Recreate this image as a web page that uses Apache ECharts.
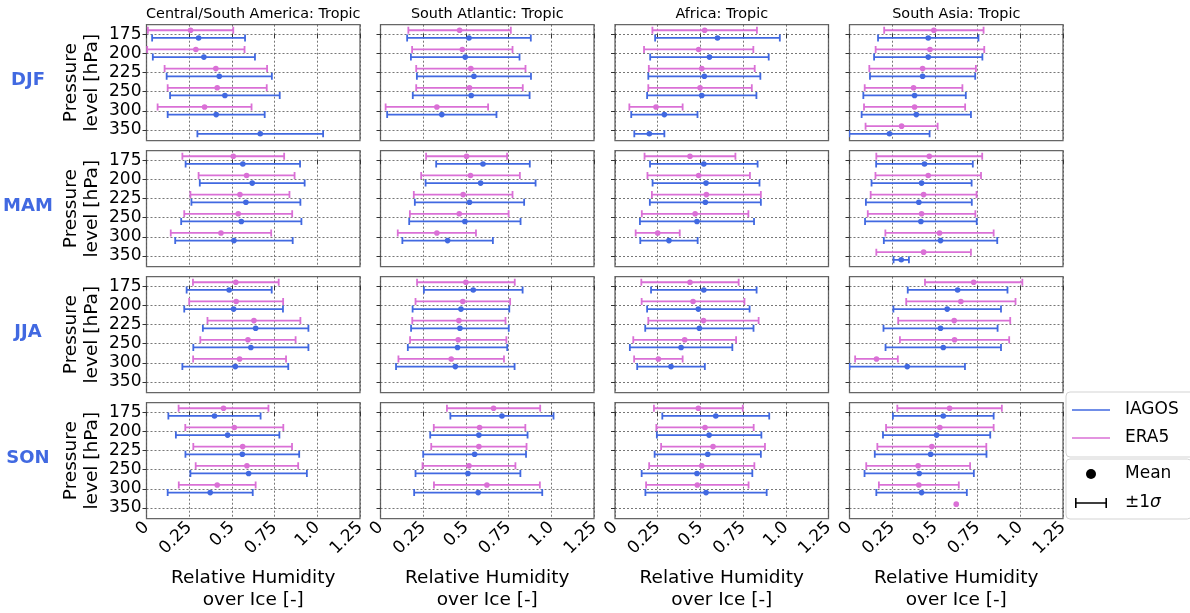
<!DOCTYPE html>
<html>
<head>
<meta charset="utf-8">
<script src="https://cdn.jsdelivr.net/npm/echarts@6/dist/echarts.min.js"></script>
<style>
  html, body { margin: 0; padding: 0; background: #fff; }
  #chart { width: 1190px; height: 613px; }
</style>
</head>
<body>
<div id="chart"></div>
<script>
// Panel headings, row headings and axis ticks
const regions = ['Central/South America: Tropic', 'South Atlantic: Tropic', 'Africa: Tropic', 'South Asia: Tropic'];
const seasons = ['DJF', 'MAM', 'JJA', 'SON'];
const levels = ['175', '200', '225', '250', '300', '350'];
const xTickLabels = ['0', '0.25', '0.5', '0.75', '1.0', '1.25'];

// Mean and standard deviation of RHi, one row per region, one column per pressure level
const djfIagosMean = [
  [0.305, 0.336, 0.426, 0.459, 0.408, 0.666],
  [0.518, 0.496, 0.547, 0.531, 0.359, null],
  [0.600, 0.553, 0.523, 0.508, 0.289, 0.201],
  [0.461, 0.461, 0.428, 0.381, 0.391, 0.234]];
const djfIagosSd = [
  [0.272, 0.299, 0.308, 0.321, 0.284, 0.368],
  [0.362, 0.318, 0.334, 0.342, 0.320, null],
  [0.365, 0.347, 0.328, 0.320, 0.194, 0.088],
  [0.294, 0.317, 0.308, 0.300, 0.320, 0.235]];
const djfEra5Mean = [
  [0.258, 0.289, 0.406, 0.414, 0.340, null],
  [0.463, 0.479, 0.529, 0.521, 0.330, null],
  [0.525, 0.490, 0.508, 0.498, 0.240, null],
  [0.494, 0.471, 0.428, 0.375, 0.381, 0.305]];
const djfEra5Sd = [
  [0.250, 0.285, 0.300, 0.290, 0.275, null],
  [0.300, 0.294, 0.320, 0.312, 0.300, null],
  [0.306, 0.320, 0.310, 0.303, 0.156, null],
  [0.291, 0.318, 0.312, 0.286, 0.296, 0.211]];

const mamIagosMean = [
  [0.564, 0.619, 0.582, 0.555, 0.512, null],
  [0.600, 0.586, 0.521, 0.494, 0.393, null],
  [0.520, 0.533, 0.529, 0.480, 0.316, null],
  [0.439, 0.422, 0.406, 0.418, 0.533, 0.303]];
const mamIagosSd = [
  [0.335, 0.307, 0.319, 0.352, 0.344, null],
  [0.274, 0.322, 0.320, 0.326, 0.265, null],
  [0.315, 0.313, 0.325, 0.334, 0.168, null],
  [0.283, 0.293, 0.310, 0.327, 0.332, 0.045]];
const mamEra5Mean = [
  [0.508, 0.586, 0.547, 0.537, 0.436, null],
  [0.504, 0.527, 0.484, 0.461, 0.330, null],
  [0.439, 0.490, 0.535, 0.469, 0.250, null],
  [0.467, 0.461, 0.434, 0.422, 0.527, 0.434]];
const mamEra5Sd = [
  [0.298, 0.281, 0.290, 0.316, 0.294, null],
  [0.237, 0.289, 0.289, 0.289, 0.229, null],
  [0.266, 0.300, 0.319, 0.312, 0.129, null],
  [0.310, 0.309, 0.310, 0.315, 0.317, 0.277]];

const jjaIagosMean = [
  [0.484, 0.510, 0.639, 0.611, 0.520, null],
  [0.543, 0.471, 0.465, 0.451, 0.438, null],
  [0.520, 0.488, 0.494, 0.387, 0.328, null],
  [0.633, 0.572, 0.533, 0.549, 0.338, null]];
const jjaIagosSd = [
  [0.249, 0.289, 0.309, 0.337, 0.310, null],
  [0.289, 0.283, 0.286, 0.291, 0.347, null],
  [0.309, 0.300, 0.317, 0.300, 0.198, null],
  [0.292, 0.315, 0.334, 0.338, 0.338, null]];
const jjaEra5Mean = [
  [0.523, 0.525, 0.629, 0.594, 0.545, null],
  [0.500, 0.482, 0.459, 0.455, 0.414, null],
  [0.439, 0.457, 0.518, 0.408, 0.254, null],
  [0.727, 0.652, 0.613, 0.615, 0.158, null]];
const jjaEra5Sd = [
  [0.251, 0.275, 0.272, 0.279, 0.272, null],
  [0.286, 0.277, 0.273, 0.282, 0.309, null],
  [0.285, 0.301, 0.323, 0.301, 0.142, null],
  [0.285, 0.320, 0.328, 0.320, 0.125, null]];

const sonIagosMean = [
  [0.398, 0.475, 0.561, 0.598, 0.373, null],
  [0.711, 0.576, 0.551, 0.512, 0.572, null],
  [0.590, 0.551, 0.543, 0.480, 0.533, null],
  [0.549, 0.510, 0.475, 0.408, 0.422, null]];
const sonIagosSd = [
  [0.270, 0.303, 0.333, 0.341, 0.249, null],
  [0.302, 0.285, 0.301, 0.307, 0.375, null],
  [0.313, 0.306, 0.311, 0.324, 0.355, null],
  [0.295, 0.314, 0.327, 0.320, 0.265, null]];
const sonEra5Mean = [
  [0.451, 0.514, 0.563, 0.588, 0.414, null],
  [0.662, 0.580, 0.576, 0.518, 0.623, null],
  [0.488, 0.527, 0.574, 0.508, 0.482, null],
  [0.586, 0.529, 0.482, 0.402, 0.406, 0.625]];
const sonEra5Sd = [
  [0.263, 0.287, 0.289, 0.300, 0.225, null],
  [0.273, 0.268, 0.279, 0.272, 0.310, null],
  [0.260, 0.285, 0.304, 0.308, 0.300, null],
  [0.306, 0.315, 0.319, 0.304, 0.234, 0]];

const iagosMeanBySeason = [djfIagosMean, mamIagosMean, jjaIagosMean, sonIagosMean];
const iagosSdBySeason = [djfIagosSd, mamIagosSd, jjaIagosSd, sonIagosSd];
const era5MeanBySeason = [djfEra5Mean, mamEra5Mean, jjaEra5Mean, sonEra5Mean];
const era5SdBySeason = [djfEra5Sd, mamEra5Sd, jjaEra5Sd, sonEra5Sd];

const IAGOS_COLOR = '#4169E1';
const ERA5_COLOR = '#DA70D6';
const FONT = 'DejaVu Sans';

// Panel geometry
const colLeft = [146.5, 380.5, 615, 849.5];
const rowTop = [24.7, 150.7, 276.7, 402.7];
const panelW = 213.5;
const panelH = 116;

// Horizontal error bar with caps and a dot at the mean
function renderErrorBar(params, api) {
  const mean = api.value(0);
  const sd = api.value(1);
  const yPos = api.value(2);
  const color = api.visual('color');
  const c = api.coord([mean, yPos]);
  const children = [];
  if (sd > 0) {
    const lo = api.coord([mean - sd, yPos]);
    const hi = api.coord([mean + sd, yPos]);
    const st = { stroke: color, lineWidth: 1.8 };
    children.push({ type: 'line', shape: { x1: lo[0], y1: c[1], x2: hi[0], y2: c[1] }, style: st });
    children.push({ type: 'line', shape: { x1: lo[0], y1: c[1] - 3.5, x2: lo[0], y2: c[1] + 3.5 }, style: st });
    children.push({ type: 'line', shape: { x1: hi[0], y1: c[1] - 3.5, x2: hi[0], y2: c[1] + 3.5 }, style: st });
  }
  children.push({ type: 'circle', shape: { cx: c[0], cy: c[1], r: 2.8 }, style: { fill: color } });
  return { type: 'group', children: children };
}

function barData(means, sds, offset) {
  const out = [];
  means.forEach((m, i) => {
    if (m !== null) out.push([m, sds[i], i + offset]);
  });
  return out;
}

const grids = [], xAxes = [], yAxes = [], series = [], graphics = [];

for (let r = 0; r < 4; r++) {
  for (let c = 0; c < 4; c++) {
    const idx = r * 4 + c;
    grids.push({
      left: colLeft[c], top: rowTop[r], width: panelW, height: panelH,
      show: true, borderColor: '#666', borderWidth: 1.3, backgroundColor: 'transparent'
    });
    xAxes.push({
      type: 'value', gridIndex: idx, min: 0, max: 1.25, interval: 0.25,
      axisLine: { show: false },
      axisTick: { show: true, length: 4, lineStyle: { color: '#333' } },
      axisLabel: {
        show: r === 3, rotate: 45, fontSize: 17, color: '#000', fontFamily: FONT, margin: 6,
        formatter: v => xTickLabels[Math.round(v / 0.25)]
      },
      splitLine: { show: true, lineStyle: { color: '#555', width: 0.8, type: [2, 2] } },
      name: r === 3 ? 'Relative Humidity\nover Ice [-]' : '',
      nameLocation: 'middle', nameGap: 48,
      nameTextStyle: { fontSize: 18.5, lineHeight: 22, color: '#000', fontFamily: FONT }
    });
    yAxes.push({
      type: 'value', gridIndex: idx, min: -0.49, max: 5.56, inverse: true,
      axisLine: { show: false },
      axisTick: { show: true, length: 4, lineStyle: { color: '#333' }, customValues: [0, 1, 2, 3, 4, 5] },
      axisLabel: {
        show: c === 0, fontSize: 17, color: '#000', fontFamily: FONT, margin: 5,
        customValues: [0, 1, 2, 3, 4, 5],
        formatter: v => levels[Math.round(v)]
      },
      splitLine: { show: true, lineStyle: { color: '#555', width: 0.8, type: [2, 2] } },
      name: c === 0 ? 'Pressure\nlevel [hPa]' : '',
      nameLocation: 'middle', nameGap: 44,
      nameTextStyle: { fontSize: 18.5, lineHeight: 21, color: '#000', fontFamily: FONT }
    });
    series.push({
      type: 'custom', name: 'IAGOS', xAxisIndex: idx, yAxisIndex: idx, clip: true,
      itemStyle: { color: IAGOS_COLOR }, renderItem: renderErrorBar,
      data: barData(iagosMeanBySeason[r][c], iagosSdBySeason[r][c], 0.2)
    });
    series.push({
      type: 'custom', name: 'ERA5', xAxisIndex: idx, yAxisIndex: idx, clip: true,
      itemStyle: { color: ERA5_COLOR }, renderItem: renderErrorBar,
      data: barData(era5MeanBySeason[r][c], era5SdBySeason[r][c], -0.2)
    });
  }
}

// Legend-only entries for the marker key
series.push({ type: 'line', name: 'Mean', data: [], itemStyle: { color: '#000' } });
series.push({ type: 'line', name: '±1σ', data: [], itemStyle: { color: '#000' } });

regions.forEach((t, c) => {
  graphics.push({
    type: 'text', x: colLeft[c] + panelW / 2, y: 14,
    style: { text: t, fill: '#000', font: '14.4px "DejaVu Sans"', textAlign: 'center', textVerticalAlign: 'middle' }
  });
});
seasons.forEach((s, r) => {
  graphics.push({
    type: 'text', x: 28, y: rowTop[r] + panelH / 2 - 2,
    style: { text: s, fill: IAGOS_COLOR, font: 'bold 18px "DejaVu Sans"', textAlign: 'center', textVerticalAlign: 'middle' }
  });
});

const errorBarIcon = 'path://M0,0h1.6v10h-1.6z M0,4.2h32v1.6h-32z M30.4,0h1.6v10h-1.6z';

const option = {
  animation: false,
  textStyle: { fontFamily: FONT },
  grid: grids,
  xAxis: xAxes,
  yAxis: yAxes,
  series: series,
  graphic: graphics,
  legend: [
    {
      orient: 'vertical', left: 1066, top: 392,
      selectedMode: false,
      data: [
        { name: 'IAGOS', icon: 'rect', itemStyle: { color: IAGOS_COLOR } },
        { name: 'ERA5', icon: 'rect', itemStyle: { color: ERA5_COLOR } }
      ],
      itemWidth: 38, itemHeight: 1.5, itemGap: 8,
      textStyle: { fontSize: 17, color: '#000', fontFamily: FONT, padding: [0, 0, 0, 10], lineHeight: 20 },
      borderColor: '#d3d3d3', borderWidth: 1, borderRadius: 4,
      padding: [8, 20, 9, 6]
    },
    {
      orient: 'vertical', left: 1066, top: 459,
      selectedMode: false,
      data: [
        { name: 'Mean', icon: 'circle', itemStyle: { color: '#000' } },
        { name: '±1σ', icon: errorBarIcon, itemStyle: { color: '#000' } }
      ],
      itemWidth: 32, itemHeight: 10, itemGap: 9,
      formatter: n => n === '±1σ' ? '±1{i|σ}' : n,
      textStyle: {
        fontSize: 17, color: '#000', fontFamily: FONT, padding: [0, 0, 0, 13], lineHeight: 20,
        rich: { i: { fontSize: 17, fontStyle: 'italic', fontFamily: FONT, lineHeight: 20 } }
      },
      borderColor: '#d3d3d3', borderWidth: 1, borderRadius: 4,
      padding: [5, 20, 6, 9]
    }
  ]
};

const chart = echarts.init(document.getElementById('chart'));
chart.setOption(option);
</script>
</body>
</html>
